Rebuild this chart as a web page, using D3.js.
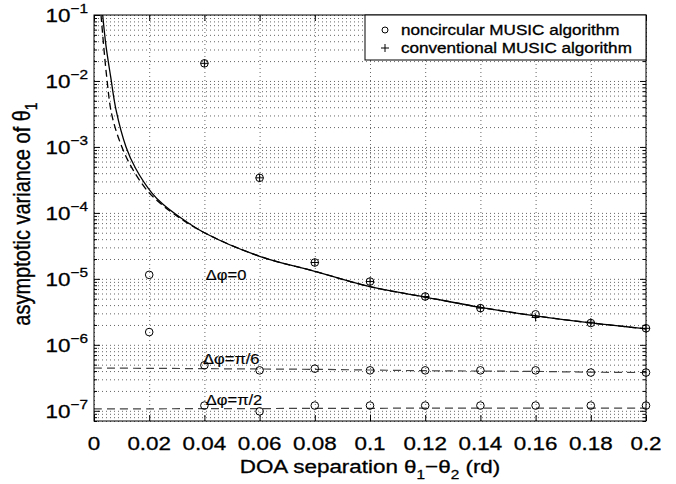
<!DOCTYPE html>
<html>
<head>
<meta charset="utf-8">
<script src="https://cdnjs.cloudflare.com/ajax/libs/d3/7.8.5/d3.min.js"></script>
<style>
body { margin: 0; background: #fff; }
text { font-family: "Liberation Sans", Arial, Helvetica, sans-serif; fill: #000; stroke: #000; stroke-width: 0.3px; }
</style>
</head>
<body>
<div id="chart-area"></div>
<script>
// values
var xTicks = [0, 0.02, 0.04, 0.06, 0.08, 0.1, 0.12, 0.14, 0.16, 0.18, 0.2];
var yTicks = [1e-7, 1e-6, 1e-5, 1e-4, 1e-3, 1e-2, 1e-1];
var yExp = [-7, -6, -5, -4, -3, -2, -1];

// delta phi = 0, theoretical curves
var solidX = [0.00315, 0.00435, 0.00605, 0.008, 0.0116, 0.015, 0.021, 0.025, 0.03, 0.04, 0.06, 0.08, 0.1, 0.12, 0.14, 0.16, 0.18, 0.2];
var solidY = [1e-1, 3.4e-2, 1.15e-2, 3.6e-3, 1e-3, 4.8e-4, 2.0e-4, 1.35e-4, 9.3e-5, 5e-5, 2.2e-5, 1.3e-5, 7.6e-6, 5.3e-6, 3.7e-6, 2.75e-6, 2.15e-6, 1.75e-6];
var dashX = [0.00254, 0.0046, 0.0065, 0.0101, 0.014, 0.0196, 0.024, 0.029, 0.04, 0.06, 0.08, 0.1, 0.12, 0.14, 0.16, 0.18, 0.2];
var dashY = [1e-1, 1.15e-2, 3e-3, 1e-3, 4.6e-4, 2.1e-4, 1.4e-4, 9.6e-5, 5e-5, 2.2e-5, 1.3e-5, 7.6e-6, 5.3e-6, 3.7e-6, 2.75e-6, 2.15e-6, 1.75e-6];

// delta phi = pi/6 and pi/2, theoretical lines
var flatX = [0, 0.02, 0.04, 0.06, 0.08, 0.1, 0.12, 0.14, 0.16, 0.18, 0.2];
var pi6Line = [4.45e-7, 4.4e-7, 4.35e-7, 4.3e-7, 4.25e-7, 4.15e-7, 4.05e-7, 4.0e-7, 3.95e-7, 3.85e-7, 3.8e-7];
var pi2Line = [1.07e-7, 1.07e-7, 1.08e-7, 1.08e-7, 1.09e-7, 1.09e-7, 1.1e-7, 1.1e-7, 1.1e-7, 1.1e-7, 1.1e-7];

// simulation points
var simX = [0.02, 0.04, 0.06, 0.08, 0.1, 0.12, 0.14, 0.16, 0.18, 0.2];
var circ0 = [1.15e-5, 1.85e-2, 3.4e-4, 1.77e-5, 9.1e-6, 5.4e-6, 3.6e-6, 2.9e-6, 2.14e-6, 1.78e-6];
var plus0 = [null, 1.85e-2, 3.4e-4, 1.77e-5, 9.1e-6, 5.4e-6, 3.6e-6, 2.6e-6, 2.2e-6, 1.78e-6];
var circ6 = [1.56e-6, 4.9e-7, 4.1e-7, 4.35e-7, 4.1e-7, 4.1e-7, 4.1e-7, 4.1e-7, 3.8e-7, 3.8e-7];
var circ2 = [null, 1.2e-7, 9.8e-8, 1.2e-7, 1.2e-7, 1.2e-7, 1.2e-7, 1.2e-7, 1.2e-7, 1.2e-7];

var legendLabels = ["noncircular MUSIC algorithm", "conventional MUSIC algorithm"];

var margin = {left: 94, right: 30, top: 15, bottom: 63};
var width = 676 - margin.left - margin.right;
var height = 484 - margin.top - margin.bottom;
var sx = 1.18; // the figure is a little wider than tall

var svg = d3.select("#chart-area").append("svg")
    .attr("width", 676)
    .attr("height", 484);

svg.append("rect").attr("width", 676).attr("height", 484).attr("fill", "#fff");

var g = svg.append("g")
    .attr("transform", "translate(" + margin.left + "," + margin.top + ")");

var x = d3.scaleLinear().domain([0, 0.2]).range([0, width]);
var y = d3.scaleLog().domain([7e-8, 1e-1]).range([height, 0]);

var minorTicks = y.ticks().filter(function(d){
    return yTicks.indexOf(d) < 0;
});

// grid
g.append("g").attr("class", "grid")
    .call(d3.axisLeft(y).tickValues(y.ticks()).tickSize(-width).tickFormat(""));
g.append("g").attr("class", "grid")
    .attr("transform", "translate(0," + height + ")")
    .call(d3.axisBottom(x).tickValues(xTicks).tickSize(-height).tickFormat(""));
g.selectAll(".grid .domain").remove();
g.selectAll(".grid line")
    .attr("stroke", "#666")
    .attr("stroke-width", 1)
    .attr("stroke-dasharray", "1,3");

// ticks on all four sides, pointing in
function tickAxis(axis, vals, size, tr){
    var a = g.append("g").call(axis.tickValues(vals).tickSizeInner(size).tickSizeOuter(0).tickFormat(""));
    if (tr) a.attr("transform", tr);
    a.select(".domain").remove();
    a.selectAll("line").attr("stroke", "#000");
}
tickAxis(d3.axisLeft(y), yTicks, -6);
tickAxis(d3.axisLeft(y), minorTicks, -3);
tickAxis(d3.axisRight(y), yTicks, -6, "translate(" + width + ",0)");
tickAxis(d3.axisRight(y), minorTicks, -3, "translate(" + width + ",0)");
tickAxis(d3.axisBottom(x), xTicks, -6, "translate(0," + height + ")");
tickAxis(d3.axisTop(x), xTicks, -6);

// clip for curves
svg.append("defs").append("clipPath").attr("id", "clip")
    .append("rect").attr("width", width).attr("height", height);

var line = d3.line()
    .x(function(d){ return x(d[0]); })
    .y(function(d){ return y(d[1]); })
    .curve(d3.curveCatmullRom.alpha(0.5));

var plot = g.append("g").attr("clip-path", "url(#clip)");

[pi6Line, pi2Line].forEach(function(vals){
    plot.append("path")
        .datum(d3.zip(flatX, vals))
        .attr("d", line)
        .attr("fill", "none")
        .attr("stroke", "#444")
        .attr("stroke-width", 1.2)
        .attr("stroke-dasharray", "8,5");
});

plot.append("path")
    .datum(d3.zip(solidX, solidY))
    .attr("d", line)
    .attr("fill", "none")
    .attr("stroke", "#000")
    .attr("stroke-width", 1.3);

plot.append("path")
    .datum(d3.zip(dashX, dashY))
    .attr("d", line)
    .attr("fill", "none")
    .attr("stroke", "#000")
    .attr("stroke-width", 1.3)
    .attr("stroke-dasharray", "7,4");

// markers
var circPts = d3.zip(simX, circ0).concat(d3.zip(simX, circ6), d3.zip(simX, circ2))
    .filter(function(d){ return d[1] != null; });
var plusPts = d3.zip(simX, plus0).filter(function(d){ return d[1] != null; });

g.selectAll(".circ")
    .data(circPts)
    .enter()
    .append("circle")
    .attr("class", "circ")
    .attr("cx", function(d){ return x(d[0]); })
    .attr("cy", function(d){ return y(d[1]); })
    .attr("r", 3.8)
    .attr("fill", "none")
    .attr("stroke", "#000")
    .attr("stroke-width", 1);

g.selectAll(".plus")
    .data(plusPts)
    .enter()
    .append("path")
    .attr("class", "plus")
    .attr("d", function(d){
        var cx = x(d[0]), cy = y(d[1]), s = 4;
        return "M" + (cx - s) + "," + cy + "H" + (cx + s) + "M" + cx + "," + (cy - s) + "V" + (cy + s);
    })
    .attr("stroke", "#000")
    .attr("stroke-width", 1);

// box
g.append("rect")
    .attr("width", width)
    .attr("height", height)
    .attr("fill", "none")
    .attr("stroke", "#000")
    .attr("stroke-width", 1);

// x tick labels
g.selectAll(".xlab")
    .data(xTicks)
    .enter()
    .append("text")
    .attr("class", "xlab")
    .attr("transform", function(d){ return "translate(" + x(d) + "," + (height + 29) + ") scale(" + sx + ",1)"; })
    .attr("text-anchor", "middle")
    .attr("font-size", "19px")
    .text(function(d){ return d === 0 ? "0" : d3.format("~g")(d); });

// y tick labels 10^k
var ylab = g.selectAll(".ylab")
    .data(yTicks)
    .enter()
    .append("text")
    .attr("class", "ylab")
    .attr("transform", function(d){ return "translate(-6," + (y(d) + 7) + ") scale(" + sx + ",1)"; })
    .attr("text-anchor", "end")
    .attr("font-size", "19px");
ylab.append("tspan").text("10");
ylab.append("tspan")
    .attr("dy", -9)
    .attr("font-size", "13px")
    .text(function(d, i){ return "\u2212" + (-yExp[i]); });

// axis titles
var xt = g.append("text")
    .attr("transform", "translate(" + (width / 2) + "," + (height + 52) + ") scale(" + sx + ",1)")
    .attr("text-anchor", "middle")
    .attr("font-size", "19px");
xt.append("tspan").text("DOA separation \u03b8");
xt.append("tspan").attr("font-size", "13px").attr("dy", 6).text("1");
xt.append("tspan").attr("dy", -6).text("\u2212\u03b8");
xt.append("tspan").attr("font-size", "13px").attr("dy", 6).text("2");
xt.append("tspan").attr("dy", -6).text(" (rd)");

var yt = svg.append("text")
    .attr("transform", "translate(30," + (margin.top + height / 2 - 4) + ") rotate(-90) scale(1," + sx + ")")
    .attr("text-anchor", "middle")
    .attr("font-size", "20px");
yt.append("tspan").text("asymptotic variance of \u03b8");
yt.append("tspan").attr("font-size", "14px").attr("dy", 6).text("1");

// curve labels
var curveLabels = [
    {t: "\u0394\u03c6=0", x: 0.0405, v: 1.15e-5},
    {t: "\u0394\u03c6=\u03c0/6", x: 0.0395, v: 6.1e-7},
    {t: "\u0394\u03c6=\u03c0/2", x: 0.0405, v: 1.45e-7}
];
g.selectAll(".clab")
    .data(curveLabels)
    .enter()
    .append("text")
    .attr("class", "clab")
    .attr("transform", function(d){ return "translate(" + x(d.x) + "," + (y(d.v) + 5) + ") scale(" + sx + ",1)"; })
    .attr("font-size", "14px")
    .style("stroke-width", "0.15px")
    .text(function(d){ return d.t; });

// legend
var lg = g.append("g").attr("transform", "translate(" + (width - 281) + ",0)");
lg.append("rect")
    .attr("width", 281)
    .attr("height", 45)
    .attr("fill", "#fff")
    .attr("stroke", "#000")
    .attr("stroke-width", 1);
lg.append("circle").attr("cx", 20).attr("cy", 15).attr("r", 3).attr("fill", "none").attr("stroke", "#000");
lg.append("path").attr("d", "M16,33H24M20,29V37").attr("stroke", "#000");
lg.selectAll(".ltxt")
    .data(legendLabels)
    .enter()
    .append("text")
    .attr("class", "ltxt")
    .attr("transform", function(d, i){ return "translate(36," + (20 + i * 18) + ") scale(" + sx + ",1)"; })
    .attr("font-size", "14.5px")
    .text(function(d){ return d; });
</script>
</body>
</html>
